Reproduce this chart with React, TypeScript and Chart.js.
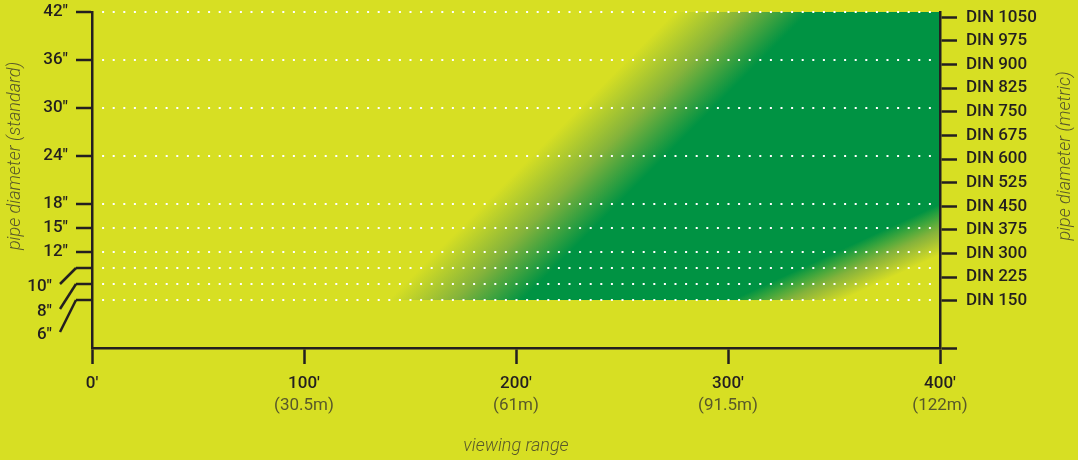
import React, { useEffect, useRef } from 'react';
import { Chart, registerables, Plugin } from 'chart.js';

Chart.register(...registerables);

const BG = '#d7df23';
const BG_CLEAR = 'rgba(215, 223, 35, 0)';
const GREEN = '#009343';
const OLIVE = '#84b33b';
const OLIVE_OVER_GREEN = 'rgba(220, 200, 54, 0.6)';
const INK = '#231f20';
const GREY = '#58582a';
const FONT = 'Roboto';

// viewing range (feet) and its metric labels
const rangeTicks = [0, 100, 200, 300, 400];
const rangeMetric = ['', '(30.5m)', '(61m)', '(91.5m)', '(122m)'];

// pipe diameter, standard (inches)
const inchTicks = [6, 8, 10, 12, 15, 18, 24, 30, 36, 42];
const leaderInches = [10, 8, 6];

// pipe diameter, metric (mm on a 0..42" = 0..1066.8 mm axis)
const dinTicks = [0, 150, 225, 300, 375, 450, 525, 600, 675, 750, 825, 900, 975, 1050];

// coverage band, points as [feet, inches]
const bandInches = [6, 42];
const fadeInStart = [[140, 6], [275, 42]];
const fadeInFull = [[203, 6], [338, 42]];
const fadeOutFull = [[302, 6], [400, 18]];
const fadeOutEnd = [[354, 6], [400, 11.8]];

// leader drop (px) for the crowded small sizes
const leaderDrop = [16, 25, 32];

const bandPlugin: Plugin = {
  id: 'band',
  beforeDraw(chart) {
    const { ctx } = chart;
    const x = chart.scales.x;
    const y = chart.scales.y;
    const px = (p: number[]) => ({ x: x.getPixelForValue(p[0]), y: y.getPixelForValue(p[1]) });

    ctx.save();
    ctx.fillStyle = BG;
    ctx.fillRect(0, 0, chart.width, chart.height);

    const left = x.getPixelForValue(rangeTicks[0]);
    const right = x.getPixelForValue(rangeTicks[rangeTicks.length - 1]);
    const top = y.getPixelForValue(bandInches[1]);
    const bottom = y.getPixelForValue(bandInches[0]);

    const grad = (from: number[][], to: number[][], stops: string[]) => {
      const a1 = px(from[0]);
      const a2 = px(from[1]);
      const len = Math.hypot(a2.x - a1.x, a2.y - a1.y);
      const nx = -(a2.y - a1.y) / len;
      const ny = (a2.x - a1.x) / len;
      const b = px(to[0]);
      const d = (b.x - a1.x) * nx + (b.y - a1.y) * ny;
      const g = ctx.createLinearGradient(a1.x, a1.y, a1.x + nx * d, a1.y + ny * d);
      stops.forEach((c, i) => g.addColorStop(i / (stops.length - 1), c));
      return g;
    };

    ctx.fillStyle = grad(fadeInStart, fadeInFull, [BG, OLIVE, GREEN]);
    ctx.fillRect(left, top, right - left, bottom - top);
    ctx.fillStyle = grad(fadeOutFull, fadeOutEnd, [BG_CLEAR, OLIVE_OVER_GREEN, BG]);
    ctx.fillRect(left, top, right - left, bottom - top);
    ctx.restore();
  },
  afterDraw(chart) {
    const { ctx } = chart;
    const x = chart.scales.x;
    const y = chart.scales.y;
    const y2 = chart.scales.y2;
    ctx.save();

    // leader lines + labels for 10", 8", 6"
    ctx.strokeStyle = INK;
    ctx.lineWidth = 2.5;
    ctx.fillStyle = INK;
    ctx.font = `500 17px ${FONT}`;
    ctx.textAlign = 'right';
    ctx.textBaseline = 'middle';
    leaderInches.forEach((v, i) => {
      const ty = y.getPixelForValue(v);
      const x0 = y.right - 16;
      const x1 = y.right - 32;
      ctx.beginPath();
      ctx.moveTo(x0, ty);
      ctx.lineTo(x1, ty + leaderDrop[i]);
      ctx.stroke();
      ctx.fillText(`${v}″`, x1 - 8, ty + leaderDrop[i] + 3);
    });

    // metric sub labels under range ticks
    ctx.fillStyle = GREY;
    ctx.font = `17px ${FONT}`;
    ctx.textAlign = 'center';
    rangeTicks.forEach((v, i) => {
      if (rangeMetric[i]) ctx.fillText(rangeMetric[i], x.getPixelForValue(v), 406);
    });

    // axis titles
    ctx.font = `italic 300 18px ${FONT}`;
    ctx.fillText('viewing range', (x.left + x.right) / 2, 446);
    const midY = (y.getPixelForValue(bandInches[0]) + y.getPixelForValue(bandInches[1])) / 2;
    [
      { text: 'pipe diameter (standard)', cx: y.left + 15 },
      { text: 'pipe diameter (metric)', cx: y2.right - 13 },
    ].forEach(({ text, cx }) => {
      ctx.save();
      ctx.translate(cx, midY);
      ctx.rotate(-Math.PI / 2);
      ctx.fillText(text, 0, 0);
      ctx.restore();
    });
    ctx.restore();
  },
};

const tickFont = { family: FONT, size: 17, weight: 500 };

const fixSize = (w?: number, h?: number) => (s: any) => {
  if (w !== undefined) s.width = w;
  if (h !== undefined) s.height = h;
  s.paddingTop = 0;
  s.paddingBottom = 0;
  s.paddingLeft = 0;
  s.paddingRight = 0;
};

export default function App() {
  const canvasRef = useRef<HTMLCanvasElement>(null);

  useEffect(() => {
    document.body.style.margin = '0';
    document.body.style.background = BG;
    if (!canvasRef.current) return;

    const chart = new Chart(canvasRef.current, {
      type: 'scatter',
      data: { datasets: [] },
      plugins: [bandPlugin],
      options: {
        animation: false,
        responsive: false,
        layout: { padding: { top: 12, left: 0, right: 0, bottom: 0 } },
        plugins: { legend: { display: false }, tooltip: { enabled: false } },
        scales: {
          x: {
            type: 'linear',
            position: 'bottom',
            min: 0,
            max: 400,
            afterFit: fixSize(undefined, 112),
            afterBuildTicks: (s: any) => { s.ticks = rangeTicks.map((v) => ({ value: v })); },
            ticks: { callback: (v: any) => `${v}′`, color: INK, font: tickFont, padding: 10, maxRotation: 0, autoSkip: false },
            grid: { drawOnChartArea: false, tickLength: 16, tickColor: INK, tickWidth: 2.5 },
            border: { color: INK, width: 2.5 },
          },
          y: {
            type: 'linear',
            position: 'left',
            min: 0,
            max: 42,
            afterFit: fixSize(92),
            afterBuildTicks: (s: any) => { s.ticks = inchTicks.map((v) => ({ value: v })); },
            ticks: {
              callback: (v: any) => (leaderInches.includes(v) ? '' : `${v}″`),
              color: INK,
              font: tickFont,
              padding: 8,
              autoSkip: false,
            },
            grid: {
              color: '#ffffff',
              lineWidth: 2,
              tickLength: 16,
              tickColor: INK,
              tickWidth: 2.5,
              tickBorderDash: [],
            },
            border: { color: INK, width: 2.5, dash: [2, 8.6], dashOffset: 2 },
          },
          y2: {
            type: 'linear',
            position: 'right',
            min: 0,
            max: 1066.8,
            afterFit: fixSize(138),
            afterBuildTicks: (s: any) => { s.ticks = dinTicks.map((v) => ({ value: v })); },
            ticks: {
              callback: (v: any) => (v === 0 ? '' : `DIN ${v}`),
              color: INK,
              font: tickFont,
              padding: 9,
              autoSkip: false,
            },
            grid: { drawOnChartArea: false, tickLength: 17, tickColor: INK, tickWidth: 2.5 },
            border: { color: INK, width: 2.5 },
          },
        },
      },
    });

    return () => chart.destroy();
  }, []);

  return (
    <div style={{ width: 1078, height: 460, background: BG }}>
      <canvas ref={canvasRef} width={1078} height={460} style={{ display: 'block' }} />
    </div>
  );
}
